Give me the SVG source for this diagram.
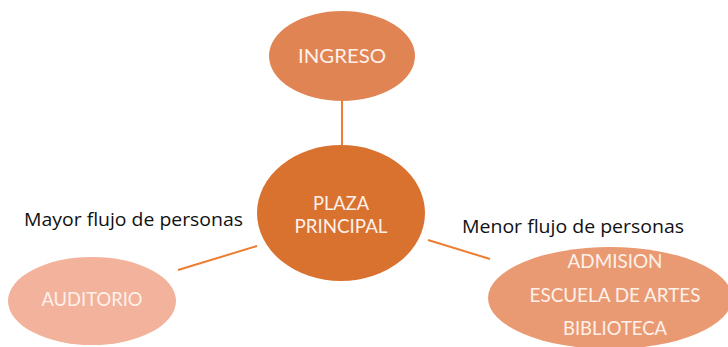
<svg xmlns="http://www.w3.org/2000/svg" width="728" height="347" viewBox="0 0 728 347">
<style>
.t{font-family:Lato,"Open Sans","Liberation Sans",sans-serif;fill:#FDF1EA;text-anchor:middle;font-size:19.5px}
.l{font-family:"Open Sans","Liberation Sans",sans-serif;fill:#111;font-size:17.5px}
.c{stroke:#ED7D31;stroke-width:2;fill:none}
</style>
<rect width="728" height="347" fill="#fff"/>
<g id="connectors">
<line class="c" x1="342" y1="101" x2="342" y2="145"/>
<line class="c" x1="178" y1="270" x2="257" y2="246"/>
<line class="c" x1="428" y1="240" x2="490" y2="259"/>
</g>
<g id="ingreso">
<ellipse cx="342" cy="56" rx="73" ry="45" fill="#E18454"/>
<text class="t" x="342" y="63" textLength="88" lengthAdjust="spacingAndGlyphs">INGRESO</text>
</g>
<g id="plaza">
<ellipse cx="341" cy="213" rx="84" ry="68" fill="#D9722F"/>
<text class="t" x="341" y="210" textLength="56" lengthAdjust="spacingAndGlyphs">PLAZA</text>
<text class="t" x="341" y="233" textLength="93" lengthAdjust="spacingAndGlyphs">PRINCIPAL</text>
</g>
<g id="auditorio">
<ellipse cx="92" cy="301" rx="84" ry="44" fill="#F2B29B"/>
<text class="t" x="92" y="306" textLength="101" lengthAdjust="spacingAndGlyphs">AUDITORIO</text>
</g>
<g id="admision">
<ellipse cx="610" cy="298" rx="122" ry="51" fill="#EA9A72"/>
<text class="t" x="615" y="268" textLength="95" lengthAdjust="spacingAndGlyphs">ADMISION</text>
<text class="t" x="615" y="302" textLength="171" lengthAdjust="spacingAndGlyphs">ESCUELA DE ARTES</text>
<text class="t" x="615" y="335" textLength="104" lengthAdjust="spacingAndGlyphs">BIBLIOTECA</text>
</g>
<text class="l" x="24" y="226" textLength="219" lengthAdjust="spacingAndGlyphs">Mayor flujo de personas</text>
<text class="l" x="462" y="233" textLength="222" lengthAdjust="spacingAndGlyphs">Menor flujo de personas</text>
</svg>
